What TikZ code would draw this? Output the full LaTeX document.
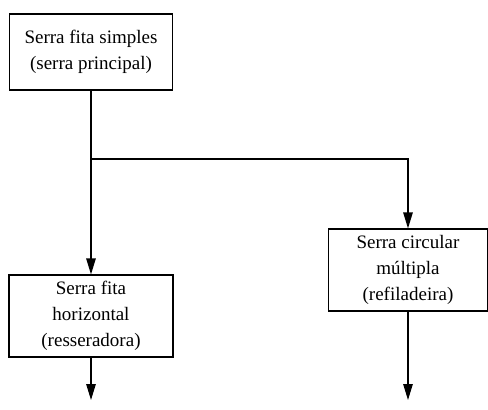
\documentclass[tikz,border=0pt]{standalone}
\usepackage{fontspec}
\setmainfont{Liberation Serif}
\usetikzlibrary{arrows.meta}
\begin{document}
\begin{tikzpicture}[x=1pt,y=1pt,line width=1.2pt,
    box/.style={draw,align=center,inner sep=0pt,font=\fontsize{19}{26}\selectfont},
    >={Triangle[length=16pt,width=9.5pt]}]
  \useasboundingbox (0,0) rectangle (488,-410);
  % saws
  \node[box,minimum width=163,minimum height=76] (simples) at (91,-52) {Serra fita simples\\(serra principal)};
  \node[box,minimum width=164,minimum height=82] (horizontal) at (91,-316) {Serra fita\\horizontal\\(resseradora)};
  \node[box,minimum width=159,minimum height=82] (circular) at (408,-270) {Serra circular\\múltipla\\(refiladeira)};
  % branch point and loose ends
  \coordinate (split) at (91,-159);
  \coordinate (endh) at (91,-400);
  \coordinate (endc) at (408,-400);
  % connectors
  \draw (simples.south) -- (split);
  \draw[->] (split) -- (horizontal.north);
  \draw[->] (split) -| (circular.north);
  \draw[->] (horizontal.south) -- (endh);
  \draw[->] (circular.south) -- (endc);
\end{tikzpicture}
\end{document}
